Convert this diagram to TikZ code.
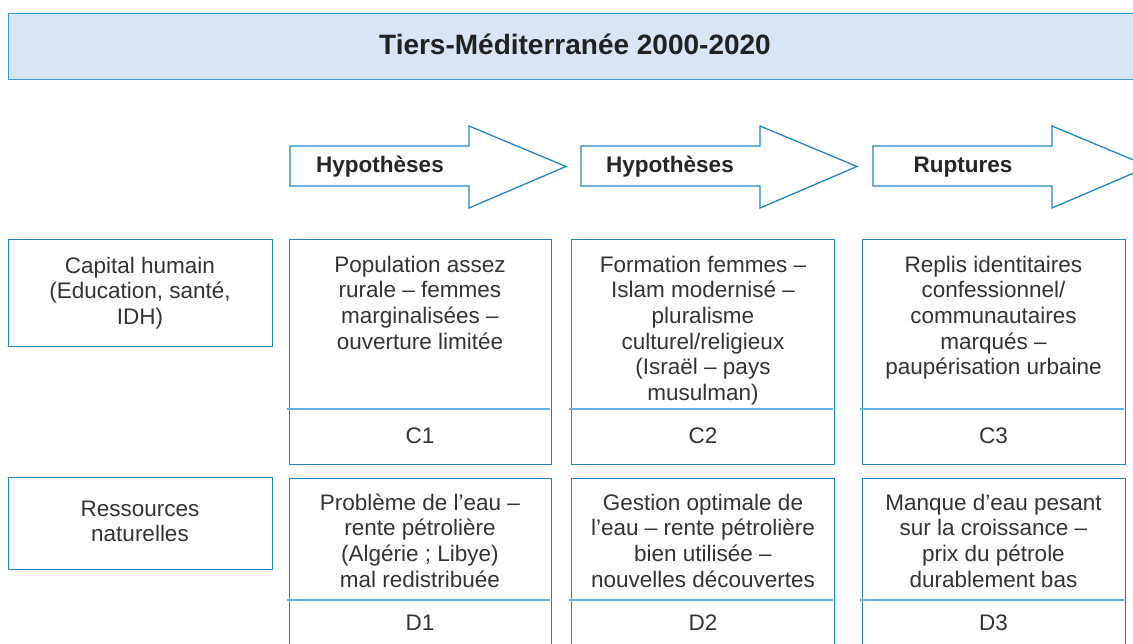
\documentclass[tikz,border=0pt]{standalone}
\usepackage{fontspec}
\setmainfont{Liberation Sans}
\usetikzlibrary{calc}
\definecolor{bordblue}{HTML}{1F87C7}
\definecolor{divblue}{HTML}{5DB3E4}
\definecolor{titleborder}{HTML}{3A9CD8}
\definecolor{titlefill}{HTML}{D9E4F5}
\definecolor{txt}{HTML}{333333}
\newcommand{\bodyfont}{\fontsize{22.5}{25.7}\selectfont}
\newcommand{\labfont}{\fontsize{22.5}{25.7}\selectfont\bfseries}
\newcommand{\titfont}{\fontsize{28}{32}\selectfont\bfseries}
\tikzset{
  cellbox/.style={draw=bordblue, line width=1.3pt, rectangle, inner sep=0pt, anchor=north west},
  titlebox/.style={draw=titleborder, fill=titlefill, line width=1.3pt, rectangle, inner sep=0pt, anchor=north west},
  divline/.style={draw=divblue, line width=1.3pt},
  bigarrow/.style={draw=bordblue, line width=1.3pt, fill=white, line join=miter},
  celltext/.style={anchor=north, align=center, inner sep=0pt, font=\bodyfont, text=txt},
  onetext/.style={anchor=base, inner sep=0pt, font=\bodyfont, text=txt},
  arrowlab/.style={anchor=base, inner sep=0pt, font=\labfont, text=black!85},
}
\begin{document}
\begin{tikzpicture}[x=1pt,y=-1pt]
\useasboundingbox (0,0) rectangle (1133,644);
\clip (0,0) rectangle (1133,644);
% title
\node[titlebox, minimum width=1140pt, minimum height=66pt] (title) at (8,13) {};
\node[anchor=base, inner sep=0pt, font=\titfont, text=black!87] (titletext) at (575,55) {Tiers-Méditerranée 2000-2020};
% arrows
\foreach \dx/\nm in {0/a1,291/a2,583/a3}{
  \draw[bigarrow] (290+\dx,146) -- (469+\dx,146) -- (469+\dx,126) -- (566+\dx,166.5) -- (469+\dx,208) -- (469+\dx,186) -- (290+\dx,186) -- cycle;
}
\node[arrowlab] (lab1) at (380,173) {Hypothèses};
\node[arrowlab] (lab2) at (670,173) {Hypothèses};
\node[arrowlab] (lab3) at (963,173) {Ruptures};
% row labels
\node[cellbox, minimum width=264pt, minimum height=107pt] (rowc) at (8,239) {};
\node[celltext] (rowctext) at (140,255) {\strut Capital humain\\(Education, santé,\\IDH)};
\node[cellbox, minimum width=264pt, minimum height=92pt] (rowd) at (8,477) {};
\node[celltext] (rowdtext) at (140,498) {\strut Ressources\\naturelles};
% C row
\node[cellbox, minimum width=262pt, minimum height=225pt] (c1) at (289,239) {};
\node[cellbox, minimum width=263pt, minimum height=225pt] (c2) at (571,239) {};
\node[cellbox, minimum width=263pt, minimum height=225pt] (c3) at (862,239) {};
\foreach \n in {c1,c2,c3}{
  \draw[divline] ($(\n.north west)+(-2,170)$) -- ($(\n.north east)+(-2,170)$);
}
\node[celltext] (c1text) at (420,254) {\strut Population assez\\rurale – femmes\\marginalisées –\\ouverture limitée};
\node[celltext] (c2text) at (703,254) {\strut Formation femmes –\\Islam modernisé –\\pluralisme\\culturel/religieux\\(Israël – pays\\musulman)};
\node[celltext] (c3text) at (993.5,254) {\strut Replis identitaires\\confessionnel/\\communautaires\\marqués –\\paupérisation urbaine};
\node[onetext] (c1lab) at (420,443) {C1};
\node[onetext] (c2lab) at (703,443) {C2};
\node[onetext] (c3lab) at (993.5,443) {C3};
% D row
\node[cellbox, minimum width=262pt, minimum height=190pt] (d1) at (289,478) {};
\node[cellbox, minimum width=263pt, minimum height=190pt] (d2) at (571,478) {};
\node[cellbox, minimum width=263pt, minimum height=190pt] (d3) at (862,478) {};
\foreach \n in {d1,d2,d3}{
  \draw[divline] ($(\n.north west)+(-2,122)$) -- ($(\n.north east)+(-2,122)$);
}
\node[celltext] (d1text) at (420,492) {\strut Problème de l’eau –\\rente pétrolière\\(Algérie ; Libye)\\mal redistribuée};
\node[celltext] (d2text) at (703,492) {\strut Gestion optimale de\\l’eau – rente pétrolière\\bien utilisée –\\nouvelles découvertes};
\node[celltext] (d3text) at (993.5,492) {\strut Manque d’eau pesant\\sur la croissance –\\prix du pétrole\\durablement bas};
\node[onetext] (d1lab) at (420,630) {D1};
\node[onetext] (d2lab) at (703,630) {D2};
\node[onetext] (d3lab) at (993.5,630) {D3};
\end{tikzpicture}
\end{document}
